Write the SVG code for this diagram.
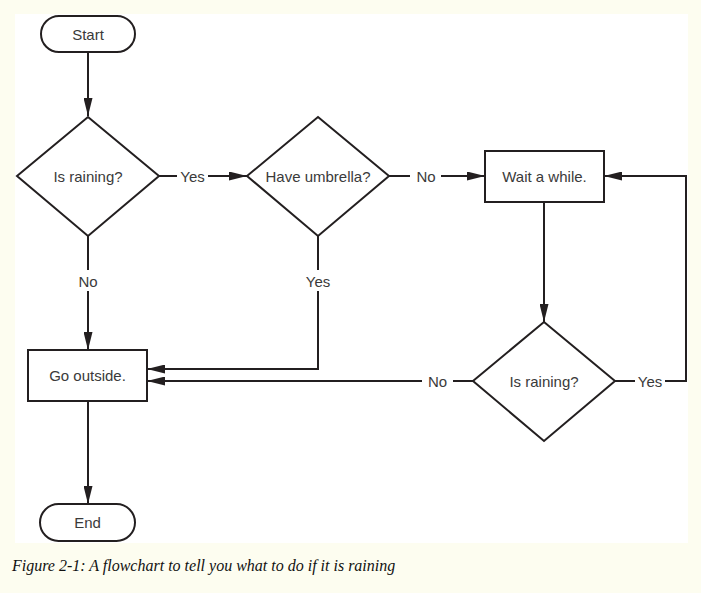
<svg xmlns="http://www.w3.org/2000/svg" width="701" height="593" viewBox="0 0 701 593">
<defs>
<style>
.shape{fill:#ffffff;stroke:#231f20;stroke-width:2}
.edge{fill:none;stroke:#231f20;stroke-width:2}
.lbl{font-family:"Liberation Sans",Arial,sans-serif;font-size:15px;fill:#3a3a3a;text-anchor:middle}
.cap{font-family:"Liberation Serif","Times New Roman",serif;font-style:italic;font-size:16px;fill:#111111}
</style>
<marker id="arr" viewBox="0 0 20 10" refX="20" refY="5" markerWidth="20" markerHeight="9" markerUnits="userSpaceOnUse" orient="auto">
<path d="M0,0 L20,5 L0,10 z" fill="#231f20"/>
</marker>
</defs>
<rect x="0" y="0" width="701" height="593" fill="#fdfdf0"/>
<rect x="15" y="14" width="673" height="529" fill="#ffffff"/>

<g id="connectors">
<path class="edge" d="M88,52 L88,116" marker-end="url(#arr)"/>
<path class="edge" d="M158,176 L177,176"/>
<text class="lbl" x="192.5" y="181.5">Yes</text>
<path class="edge" d="M208,176 L247,176" marker-end="url(#arr)"/>
<path class="edge" d="M389,176 L410,176"/>
<text class="lbl" x="426" y="181.5">No</text>
<path class="edge" d="M441,176 L485,176" marker-end="url(#arr)"/>
<path class="edge" d="M88,236 L88,270"/>
<text class="lbl" x="88" y="286.5">No</text>
<path class="edge" d="M88,291 L88,350" marker-end="url(#arr)"/>
<path class="edge" d="M318,236 L318,270"/>
<text class="lbl" x="318" y="286.5">Yes</text>
<path class="edge" d="M318,291 L318,369 L147,369" marker-end="url(#arr)"/>
<path class="edge" d="M544,202 L544,322" marker-end="url(#arr)"/>
<path class="edge" d="M473,381 L453,381"/>
<text class="lbl" x="437.5" y="386.5">No</text>
<path class="edge" d="M422,381 L147,381" marker-end="url(#arr)"/>
<path class="edge" d="M615,381 L635,381"/>
<text class="lbl" x="650" y="386.5">Yes</text>
<path class="edge" d="M665,381 L686,381 L686,176 L604,176" marker-end="url(#arr)"/>
<path class="edge" d="M88,401 L88,504" marker-end="url(#arr)"/>
</g>

<g id="start">
<rect class="shape" x="41" y="16" width="94" height="36" rx="18" ry="18"/>
<text class="lbl" x="88" y="39.5">Start</text>
</g>
<g id="is-raining-1">
<polygon class="shape" points="88,117 159,176 88,236 17,176"/>
<text class="lbl" x="88" y="181.5">Is raining?</text>
</g>
<g id="have-umbrella">
<polygon class="shape" points="318,117 389,176 318,236 247,176"/>
<text class="lbl" x="318" y="181.5">Have umbrella?</text>
</g>
<g id="wait">
<rect class="shape" x="485" y="151" width="119" height="51"/>
<text class="lbl" x="544.5" y="181.5">Wait a while.</text>
</g>
<g id="is-raining-2">
<polygon class="shape" points="544,322 615,381 544,441 473,381"/>
<text class="lbl" x="544" y="386.5">Is raining?</text>
</g>
<g id="go-outside">
<rect class="shape" x="28" y="350" width="119" height="51"/>
<text class="lbl" x="87.5" y="380.5">Go outside.</text>
</g>
<g id="end">
<rect class="shape" x="40" y="504" width="95" height="37" rx="18.5" ry="18.5"/>
<text class="lbl" x="87.5" y="527.5">End</text>
</g>

<text class="cap" x="12" y="571">Figure 2-1: A flowchart to tell you what to do if it is raining</text>
</svg>
